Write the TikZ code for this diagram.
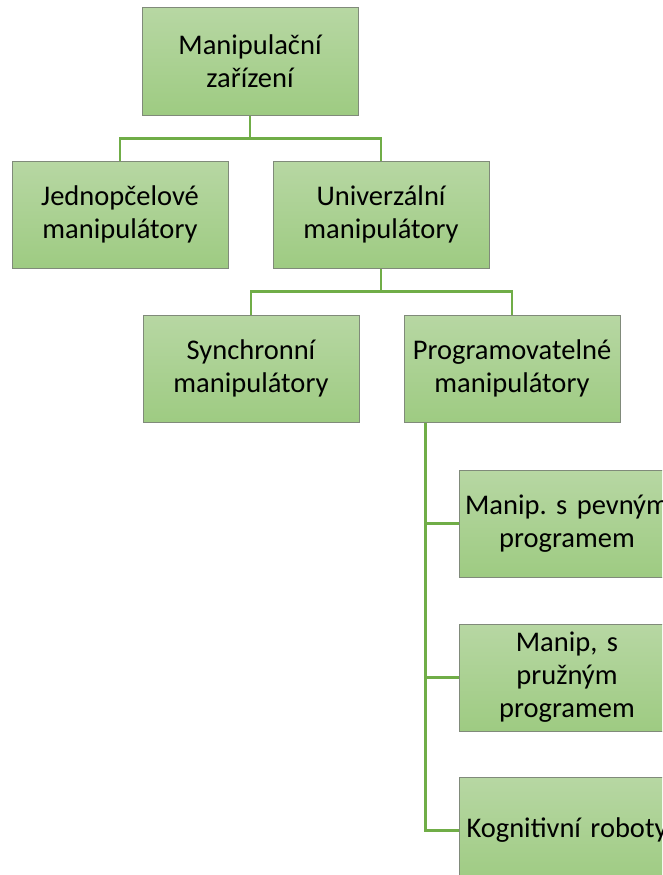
\documentclass[tikz,border=0pt]{standalone}
\usepackage{fontspec}
\setmainfont{Carlito}
\usepackage{xcolor}
\usetikzlibrary{positioning}
\frenchspacing

\definecolor{boxtop}{RGB}{183,215,163}
\definecolor{boxbottom}{RGB}{158,203,130}
\definecolor{boxline}{RGB}{128,138,122}
\definecolor{linkgreen}{RGB}{112,173,71}

\begin{document}
\begin{tikzpicture}[
    x=1pt, y=1pt,
    box/.style={rectangle, draw=boxline, line width=1pt, top color=boxtop, bottom color=boxbottom,
                minimum width=216pt, minimum height=107pt, text width=210pt, inner sep=3pt, align=center},
    link/.style={draw=linkgreen, line width=2.4pt},
    every node/.style={font=\fontsize{28.5}{33}\selectfont}
]
\useasboundingbox (0,0) rectangle (662,-875);
\clip (0,0) rectangle (662,-875);

% Top level
\node[box] (root) at (250,-61.5) {Manipulační\\zařízení};

% Second level
\node[box] (single) [below=45pt of root, xshift=-130pt] {Jednopčelové\\manipulátory};
\node[box] (universal) [right=44pt of single] {Univerzální\\manipulátory};

% Third level
\node[box] (sync) [below=46pt of universal, xshift=-130pt] {Synchronní\\manipulátory};
\node[box] (prog) [right=44pt of sync] {Programovatelné\\manipulátory};

% Programmable types
\node[box] (fixed) [below=47pt of prog.south west, anchor=north west, xshift=55pt] {Manip. s pevným\\programem};
\node[box] (flexible) [below=46pt of fixed] {Manip, s\\pružným\\programem};
\node[box] (cognitive) [below=45pt of flexible] {Kognitivní roboty};

% Connectors
\coordinate (rootfork) at ([yshift=-23pt]root.south);
\coordinate (unifork) at ([yshift=-23pt]universal.south);
\coordinate (progspine) at ([xshift=22pt]prog.south west);

\draw[link] (root.south) -- (rootfork) -| (single.north);
\draw[link] (rootfork) -| (universal.north);
\draw[link] (universal.south) -- (unifork) -| (sync.north);
\draw[link] (unifork) -| (prog.north);
\draw[link] (progspine) |- (fixed.west);
\draw[link] (progspine) |- (flexible.west);
\draw[link] (progspine) |- (cognitive.west);

\end{tikzpicture}
\end{document}
